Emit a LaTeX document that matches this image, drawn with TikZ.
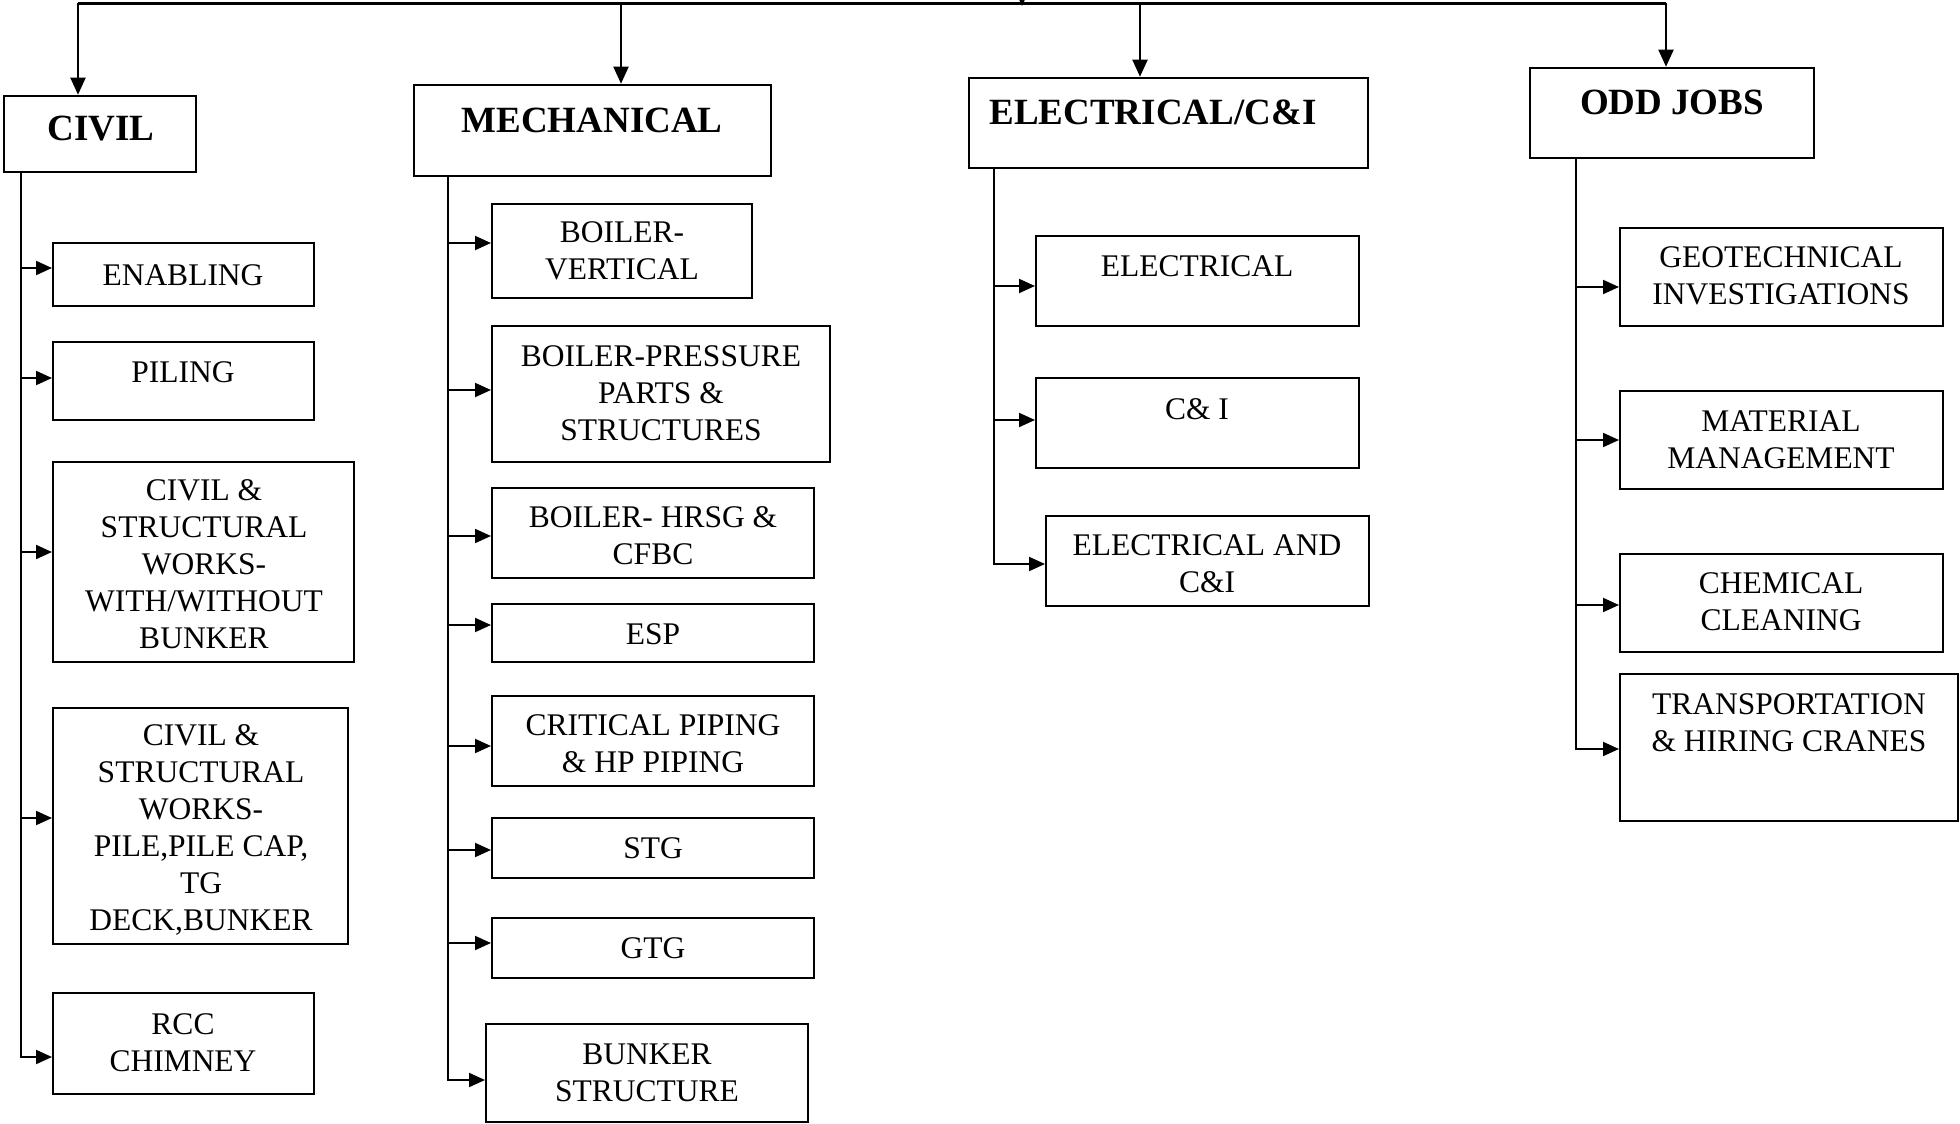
\documentclass[tikz,border=0pt]{standalone}
\usepackage{fontspec}
\setmainfont{Liberation Serif}
\usetikzlibrary{arrows.meta,fit}
\begin{document}
\begin{tikzpicture}[x=1pt,y=-1pt,
  box/.style={draw, line width=2pt, inner sep=0pt},
  hbox/.style={draw, line width=2.6pt, inner sep=0pt},
  txt/.style={align=center, inner sep=0pt, font=\fontsize{31.5}{37}\selectfont},
  htxt/.style={inner sep=0pt, font=\fontsize{37}{44}\selectfont\bfseries},
  conn/.style={line width=2pt},
  arr/.style={line width=2pt, -{Triangle[length=16pt,width=14pt]}},
  tarr/.style={line width=2pt, -{Triangle[length=17pt,width=15pt]}}]
\useasboundingbox (0,0) rectangle (1960,1124);

% ---------- header boxes ----------
\node[hbox, fit={(4,96) (196,172)}] (civil) {};
\node[htxt] (civilT) at (101,129) {CIVIL};
\node[hbox, fit={(414,85) (771,176)}] (mech) {};
\node[htxt] (mechT) at (592,120) {MECHANICAL};
\node[hbox, fit={(969,78) (1368,168)}] (elec) {};
\node[htxt] (elecT) at (1153,112) {ELECTRICAL/C\&I};
\node[hbox, fit={(1530,68) (1814,158)}] (odd) {};
\node[htxt] (oddT) at (1672,102) {ODD JOBS};

% ---------- top distribution line ----------
\coordinate (tl) at (78,4);
\coordinate (tr) at (1666,4);
\draw[line width=3pt] (tl) -- (tr);
\draw[tarr] (78,3) -- (civil.north -| 78,4);
\draw[tarr] (621,3) -- (mech.north -| 621,4);
\draw[tarr] (1140,3) -- (elec.north -| 1140,4);
\draw[tarr] (1666,3) -- (odd.north -| 1666,4);
\draw[tarr] (1022,-30) -- (1022,6);

% ---------- CIVIL ----------
\node[box, fit={(53,243) (314,306)}] (enabling) {};
\node[txt] at (183,275) {ENABLING};
\node[box, fit={(53,342) (314,420)}] (piling) {};
\node[txt] at (183,372) {PILING};
\node[box, fit={(53,462) (354,662)}] (civA) {};
\node[txt] at (204,564) {CIVIL \&\\STRUCTURAL\\WORKS-\\WITH/WITHOUT\\BUNKER};
\node[box, fit={(53,708) (348,944)}] (civB) {};
\node[txt] at (201,830) {CIVIL \&\\STRUCTURAL\\WORKS-\\PILE,PILE CAP,\\TG\\DECK,BUNKER};
\node[box, fit={(53,993) (314,1094)}] (rcc) {};
\node[txt] at (183,1043) {RCC\\CHIMNEY};

\draw[arr] (civil.south -| 21,0) |- (rcc.west |- 21,1057);
\draw[arr] (21,268) -- (enabling.west |- 21,268);
\draw[arr] (21,378) -- (piling.west |- 21,378);
\draw[arr] (21,552) -- (civA.west |- 21,552);
\draw[arr] (21,818) -- (civB.west |- 21,818);

% ---------- MECHANICAL ----------
\node[box, fit={(492,204) (752,298)}] (bv) {};
\node[txt] at (622,251) {BOILER-\\VERTICAL};
\node[box, fit={(492,326) (830,462)}] (bp) {};
\node[txt] at (661,393) {BOILER-PRESSURE\\PARTS \&\\STRUCTURES};
\node[box, fit={(492,488) (814,578)}] (hrsg) {};
\node[txt] at (653,536) {BOILER- HRSG \&\\CFBC};
\node[box, fit={(492,604) (814,662)}] (esp) {};
\node[txt] at (653,634) {ESP};
\node[box, fit={(492,696) (814,786)}] (cp) {};
\node[txt] at (653,744) {CRITICAL PIPING\\\& HP PIPING};
\node[box, fit={(492,818) (814,878)}] (stg) {};
\node[txt] at (653,848) {STG};
\node[box, fit={(492,918) (814,978)}] (gtg) {};
\node[txt] at (653,948) {GTG};
\node[box, fit={(486,1024) (808,1122)}] (bunker) {};
\node[txt] at (647,1073) {BUNKER\\STRUCTURE};

\draw[arr] (mech.south -| 448,0) |- (bunker.west |- 448,1080);
\draw[arr] (448,243) -- (bv.west |- 448,243);
\draw[arr] (448,390) -- (bp.west |- 448,390);
\draw[arr] (448,536) -- (hrsg.west |- 448,536);
\draw[arr] (448,625) -- (esp.west |- 448,625);
\draw[arr] (448,746) -- (cp.west |- 448,746);
\draw[arr] (448,850) -- (stg.west |- 448,850);
\draw[arr] (448,943) -- (gtg.west |- 448,943);

% ---------- ELECTRICAL ----------
\node[box, fit={(1036,236) (1359,326)}] (el) {};
\node[txt] at (1197,266) {ELECTRICAL};
\node[box, fit={(1036,378) (1359,468)}] (ci) {};
\node[txt] at (1197,409) {C\& I};
\node[box, fit={(1046,516) (1369,606)}] (elci) {};
\node[txt] at (1207,564) {ELECTRICAL AND\\C\&I};

\draw[arr] (elec.south -| 994,0) |- (elci.west |- 994,564);
\draw[arr] (994,286) -- (el.west |- 994,286);
\draw[arr] (994,420) -- (ci.west |- 994,420);

% ---------- ODD JOBS ----------
\node[box, fit={(1620,228) (1943,326)}] (geo) {};
\node[txt] at (1781,276) {GEOTECHNICAL\\INVESTIGATIONS};
\node[box, fit={(1620,391) (1943,489)}] (mat) {};
\node[txt] at (1781,440) {MATERIAL\\MANAGEMENT};
\node[box, fit={(1620,554) (1943,652)}] (chem) {};
\node[txt] at (1781,602) {CHEMICAL\\CLEANING};
\node[box, fit={(1620,674) (1958,821)}] (trans) {};
\node[txt] at (1789,723) {TRANSPORTATION\\\& HIRING CRANES};

\draw[arr] (odd.south -| 1576,0) |- (trans.west |- 1576,749);
\draw[arr] (1576,287) -- (geo.west |- 1576,287);
\draw[arr] (1576,440) -- (mat.west |- 1576,440);
\draw[arr] (1576,605) -- (chem.west |- 1576,605);
\end{tikzpicture}
\end{document}
